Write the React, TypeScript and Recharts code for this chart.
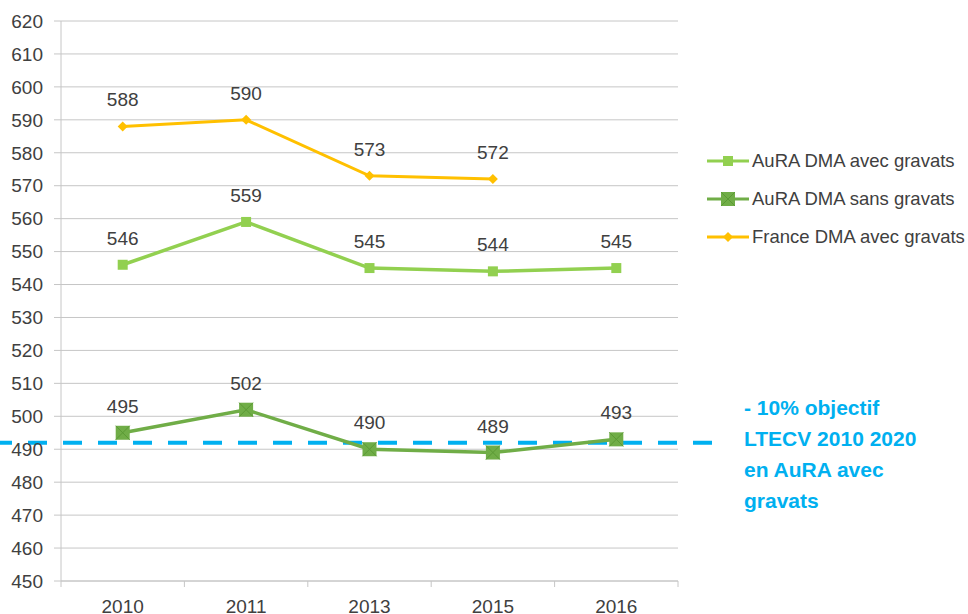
import { LineChart, Line, XAxis, YAxis, CartesianGrid, LabelList, Legend, ReferenceLine } from 'recharts'

const years = ['2010', '2011', '2013', '2015', '2016']
const auraAvec = [546, 559, 545, 544, 545]
const auraSans = [495, 502, 490, 489, 493]
const franceAvec = [588, 590, 573, 572, null]
const yTicks = [450, 460, 470, 480, 490, 500, 510, 520, 530, 540, 550, 560, 570, 580, 590, 600, 610, 620]
const objectif = 492
const objectifLines = ['- 10% objectif', 'LTECV 2010 2020', 'en AuRA avec', 'gravats']

const data = years.map((year, i) => ({
  year,
  auraAvec: auraAvec[i],
  auraSans: auraSans[i],
  france: franceAvec[i],
}))

const FONT = '"Liberation Sans", Arial, sans-serif'
const LIGHT = '#92D050'
const DARK = '#70AD47'
const ORANGE = '#FFC000'
const BLUE = '#00B0F0'
const GRID = '#C6C6C6'

const W = 968
const H = 614
const PLOT_LEFT = 61
const PLOT_RIGHT = 678
const PLOT_BOTTOM = 581
const HALF_BAND = (PLOT_RIGHT - PLOT_LEFT) / years.length / 2

/* ── markers ─────────────────────────────────────── */
const squareDot = (p: any) => {
  if (p.cy == null || p.value == null) return <g key={p.key} />
  return <rect key={p.key} x={p.cx - 5} y={p.cy - 5} width={10} height={10} fill={LIGHT} />
}

const crossDot = (p: any) => {
  if (p.cy == null) return <g key={p.key} />
  const s = 7
  return (
    <g key={p.key}>
      <rect x={p.cx - s} y={p.cy - s} width={s * 2} height={s * 2} fill={DARK} />
      <path d={`M${p.cx - s} ${p.cy - s}L${p.cx + s} ${p.cy + s}M${p.cx + s} ${p.cy - s}L${p.cx - s} ${p.cy + s}`} stroke="#5B9A35" strokeWidth={1} />
    </g>
  )
}

const diamondDot = (p: any) => {
  if (p.cy == null || p.value == null) return <g key={p.key} />
  return <path key={p.key} d={`M${p.cx} ${p.cy - 5}L${p.cx + 5} ${p.cy}L${p.cx} ${p.cy + 5}L${p.cx - 5} ${p.cy}Z`} fill={ORANGE} />
}

/* ── x ticks with boundary tick marks ─────────────── */
const XTick = (p: any) => (
  <g>
    <line x1={p.x - HALF_BAND} x2={p.x - HALF_BAND} y1={PLOT_BOTTOM} y2={PLOT_BOTTOM + 6} stroke={GRID} />
    {p.index === years.length - 1 && (
      <line x1={p.x + HALF_BAND} x2={p.x + HALF_BAND} y1={PLOT_BOTTOM} y2={PLOT_BOTTOM + 6} stroke={GRID} />
    )}
    <text x={p.x} y={613} textAnchor="middle" fill="#404040" fontSize={19} fontFamily={FONT}>
      {p.payload.value}
    </text>
  </g>
)

/* ── legend ──────────────────────────────────────── */
const legendItems = [
  { name: 'AuRA DMA avec gravats', color: LIGHT, kind: 'square' },
  { name: 'AuRA DMA sans gravats', color: DARK, kind: 'cross' },
  { name: 'France DMA avec gravats', color: ORANGE, kind: 'diamond' },
]

const LegendIcon = ({ color, kind }: { color: string; kind: string }) => (
  <svg width={44} height={20} style={{ display: 'block' }}>
    <line x1={1} x2={43} y1={10} y2={10} stroke={color} strokeWidth={3} />
    {kind === 'square' && <rect x={17} y={5} width={10} height={10} fill={color} />}
    {kind === 'cross' && (
      <g>
        <rect x={15} y={3} width={14} height={14} fill={color} />
        <path d="M15 3L29 17M29 3L15 17" stroke="#5B9A35" strokeWidth={1} />
      </g>
    )}
    {kind === 'diamond' && <path d="M22 5L27 10L22 15L17 10Z" fill={color} />}
  </svg>
)

const LegendBox = () => (
  <div style={{ fontFamily: FONT, fontSize: 18.5, color: '#404040' }}>
    {legendItems.map((it) => (
      <div key={it.name} style={{ display: 'flex', alignItems: 'center', height: 38 }}>
        <LegendIcon color={it.color} kind={it.kind} />
        <span style={{ marginLeft: 2, whiteSpace: 'nowrap' }}>{it.name}</span>
      </div>
    ))}
  </div>
)

const labelStyle = { fill: '#404040', fontSize: 19, fontFamily: FONT }

export default function App() {
  return (
    <div style={{ position: 'absolute', left: 0, top: 0, width: W, height: H, background: '#fff' }}>
      <LineChart
        width={W}
        height={H}
        data={data}
        margin={{ top: 21, right: W - PLOT_RIGHT, bottom: 3, left: 0 }}
        style={{ fontFamily: FONT }}
      >
        <CartesianGrid vertical={false} stroke={GRID} />
        <XAxis
          dataKey="year"
          height={30}
          padding={{ left: HALF_BAND, right: HALF_BAND }}
          axisLine={{ stroke: GRID }}
          tickLine={false}
          tick={<XTick />}
          interval={0}
        />
        <YAxis
          width={PLOT_LEFT}
          domain={[450, 620]}
          ticks={yTicks}
          interval={0}
          axisLine={{ stroke: GRID }}
          tickLine={{ stroke: GRID }}
          tickSize={7}
          tickMargin={11}
          tick={{ fill: '#404040', fontSize: 19, fontFamily: FONT }}
        />
        <Legend
          layout="horizontal"
          verticalAlign="middle"
          align="center"
          content={<LegendBox />}
          wrapperStyle={{ position: 'absolute', left: 706, top: 142, width: 262 }}
        />
        <ReferenceLine
          y={objectif}
          stroke={BLUE}
          shape={(p: any) => (
            <line x1={-7} x2={715} y1={p.y1} y2={p.y2} stroke={BLUE} strokeWidth={4} strokeDasharray="19 16" />
          )}
        />
        <Line
          dataKey="auraAvec"
          name="AuRA DMA avec gravats"
          stroke={LIGHT}
          strokeWidth={3.5}
          dot={squareDot}
          activeDot={false}
          isAnimationActive={false}
        >
          <LabelList dataKey="auraAvec" position="top" offset={20} style={labelStyle} />
        </Line>
        <Line
          dataKey="auraSans"
          name="AuRA DMA sans gravats"
          stroke={DARK}
          strokeWidth={3.5}
          dot={crossDot}
          activeDot={false}
          isAnimationActive={false}
        >
          <LabelList dataKey="auraSans" position="top" offset={20} style={labelStyle} />
        </Line>
        <Line
          dataKey="france"
          name="France DMA avec gravats"
          stroke={ORANGE}
          strokeWidth={3}
          dot={diamondDot}
          activeDot={false}
          isAnimationActive={false}
        >
          <LabelList dataKey="france" position="top" offset={20} style={labelStyle} />
        </Line>
      </LineChart>
      <div
        style={{
          position: 'absolute',
          left: 744,
          top: 392,
          fontFamily: FONT,
          fontWeight: 'bold',
          fontSize: 21,
          lineHeight: '31px',
          color: BLUE,
          whiteSpace: 'nowrap',
        }}
      >
        {objectifLines.map((l) => (
          <div key={l}>{l}</div>
        ))}
      </div>
    </div>
  )
}
